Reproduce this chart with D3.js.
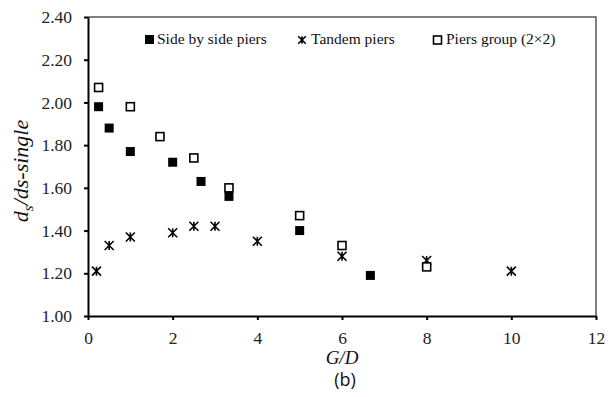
<!DOCTYPE html>
<html>
<head>
<meta charset="utf-8">
<script src="https://d3js.org/d3.v7.min.js"></script>
<style>
  body { margin: 0; background: #fff; }
</style>
</head>
<body>
<svg id="chart" width="611" height="397"></svg>
<script>
// data
const sideX = [0.25, 0.5, 1, 2, 2.67, 3.33, 5, 6.67];
const sideY = [1.98, 1.88, 1.77, 1.72, 1.63, 1.56, 1.40, 1.19];
const tandemX = [0.2, 0.5, 1, 2, 2.5, 3, 4, 6, 8, 10];
const tandemY = [1.21, 1.33, 1.37, 1.39, 1.42, 1.42, 1.35, 1.28, 1.26, 1.21];
const groupX = [0.25, 1, 1.7, 2.5, 3.33, 5, 6, 8];
const groupY = [2.07, 1.98, 1.84, 1.74, 1.60, 1.47, 1.33, 1.23];
const xTicks = [0, 2, 4, 6, 8, 10, 12];
const yTicks = [1.0, 1.2, 1.4, 1.6, 1.8, 2.0, 2.2, 2.4];

const SERIF = "'Liberation Serif', 'Times New Roman', serif";

const svg = d3.select("#chart");
const mLeft = 88, mRight = 596, mTop = 17, mBottom = 316;

const x = d3.scaleLinear().domain([0, 12]).range([mLeft, mRight]);
const y = d3.scaleLinear().domain([1, 2.4]).range([mBottom, mTop]);

// top / right frame
svg.append("path")
  .attr("d", `M${mLeft},${mTop}H${mRight}V${mBottom}`)
  .attr("fill", "none")
  .attr("stroke", "#555")
  .attr("stroke-width", 1.5);

const xAxis = svg.append("g")
  .attr("transform", `translate(0,${mBottom})`)
  .call(d3.axisBottom(x).tickValues(xTicks).tickFormat(d3.format("d")).tickSize(4).tickSizeOuter(0));
const yAxis = svg.append("g")
  .attr("transform", `translate(${mLeft},0)`)
  .call(d3.axisLeft(y).tickValues(yTicks).tickFormat(d3.format(".2f")).tickSize(4).tickSizeOuter(0));

[xAxis, yAxis].forEach(g => {
  g.attr("font-family", null);
  g.select(".domain").attr("stroke", "#000").attr("stroke-width", 2);
  g.selectAll(".tick line").attr("stroke", "#000").attr("stroke-width", 2);
  g.selectAll("text")
    .style("font-family", SERIF)
    .style("font-size", "17.5px")
    .attr("fill", "#222");
});
xAxis.selectAll("text").attr("dy", "1.2em");
yAxis.selectAll("text").attr("x", -16);

const sq = 9;

// side by side - filled squares
svg.append("g").selectAll("rect")
  .data(sideX.map((d, i) => [d, sideY[i]]))
  .join("rect")
  .attr("x", d => x(d[0]) - sq / 2)
  .attr("y", d => y(d[1]) - sq / 2)
  .attr("width", sq).attr("height", sq)
  .attr("fill", "#000");

// tandem - star markers
function star(g, s) {
  g.append("path")
    .attr("d", `M${-s},${-s}L${s},${s}M${s},${-s}L${-s},${s}M0,${-s}V${s}`)
    .attr("stroke", "#000")
    .attr("stroke-width", 1.6)
    .attr("fill", "none");
}
svg.append("g").selectAll("g")
  .data(tandemX.map((d, i) => [d, tandemY[i]]))
  .join("g")
  .attr("transform", d => `translate(${x(d[0])},${y(d[1])})`)
  .each(function() { star(d3.select(this), 4.5); });

// piers group - open squares
svg.append("g").selectAll("rect")
  .data(groupX.map((d, i) => [d, groupY[i]]))
  .join("rect")
  .attr("x", d => x(d[0]) - sq / 2 + 0.5)
  .attr("y", d => y(d[1]) - sq / 2 + 0.5)
  .attr("width", sq - 1).attr("height", sq - 1)
  .attr("fill", "#fff")
  .attr("stroke", "#000")
  .attr("stroke-width", 1.6);

// legend
const leg = svg.append("g");
function legText(xp, label) {
  leg.append("text").attr("x", xp).attr("y", 44)
    .style("font-family", SERIF).style("font-size", "15.5px")
    .attr("fill", "#111")
    .text(label);
}
leg.append("rect").attr("x", 145).attr("y", 35).attr("width", 9).attr("height", 9).attr("fill", "#000");
legText(157, "Side by side piers");
const ls = leg.append("g").attr("transform", "translate(302,40)");
star(ls, 3.8);
legText(311, "Tandem piers");
leg.append("rect").attr("x", 433.5).attr("y", 36).attr("width", 8).attr("height", 8)
  .attr("fill", "#fff").attr("stroke", "#000").attr("stroke-width", 1.6);
legText(446, "Piers group (2×2)");

// axis titles
const yl = svg.append("text")
  .attr("transform", "translate(28,171) rotate(-90)")
  .attr("text-anchor", "middle")
  .style("font-family", SERIF)
  .style("font-size", "22px")
  .style("font-style", "italic")
  .attr("fill", "#111");
yl.append("tspan").text("d");
yl.append("tspan").style("font-size", "15px").attr("dy", 5).text("s");
yl.append("tspan").attr("dy", -5).text("/ds-single");

svg.append("text")
  .attr("x", x(6)).attr("y", 364)
  .attr("text-anchor", "middle")
  .style("font-family", SERIF)
  .style("font-size", "19px")
  .style("font-style", "italic")
  .attr("fill", "#111")
  .text("G/D");

svg.append("text")
  .attr("x", 345).attr("y", 386)
  .attr("text-anchor", "middle")
  .style("font-family", "'Open Sans', 'DejaVu Sans', sans-serif")
  .style("font-size", "18px")
  .attr("fill", "#111")
  .text("(b)");
</script>
</body>
</html>
